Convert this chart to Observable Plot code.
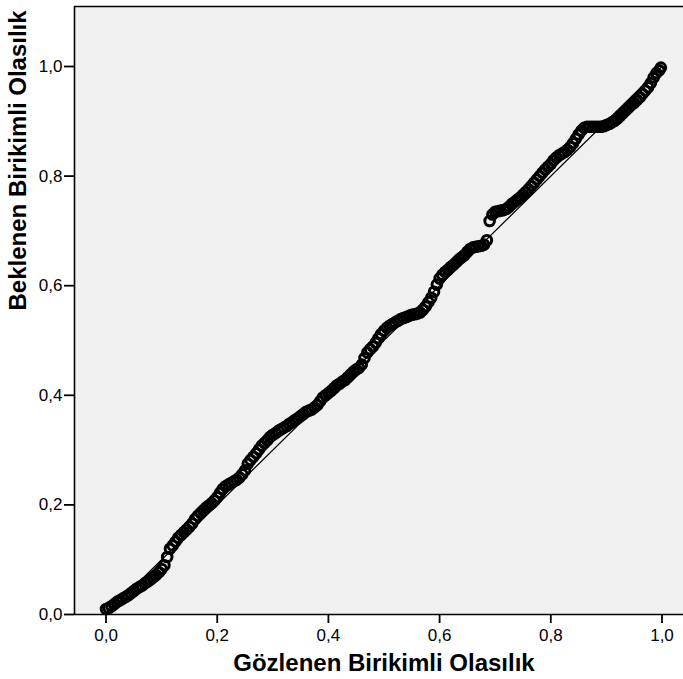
<!DOCTYPE html>
<html>
<head>
<meta charset="utf-8">
<script src="https://cdn.jsdelivr.net/npm/d3@7"></script>
<script src="https://cdn.jsdelivr.net/npm/@observablehq/plot@0.6"></script>
<style>
  html, body { margin: 0; padding: 0; background: #ffffff; }
  #chart svg { display: block; }
</style>
</head>
<body>
<div id="chart"></div>
<script>
// Observed cumulative probability (x) and expected cumulative probability (y)
const observed = [
  0.000, 0.005, 0.010, 0.015, 0.020, 0.025, 0.030, 0.035, 0.040, 0.045,
  0.050, 0.055, 0.060, 0.065, 0.070, 0.075, 0.080, 0.085, 0.090, 0.095,
  0.100, 0.105, 0.110, 0.115, 0.120, 0.125, 0.130, 0.135, 0.140, 0.145,
  0.150, 0.155, 0.160, 0.165, 0.170, 0.175, 0.180, 0.185, 0.190, 0.195,
  0.200, 0.205, 0.210, 0.215, 0.220, 0.225, 0.230, 0.235, 0.240, 0.245,
  0.250, 0.255, 0.260, 0.265, 0.270, 0.275, 0.280, 0.285, 0.290, 0.295,
  0.300, 0.305, 0.310, 0.315, 0.320, 0.325, 0.330, 0.335, 0.340, 0.345,
  0.350, 0.355, 0.360, 0.365, 0.370, 0.375, 0.380, 0.385, 0.390, 0.395,
  0.400, 0.405, 0.410, 0.415, 0.420, 0.425, 0.430, 0.435, 0.440, 0.445,
  0.450, 0.455, 0.460, 0.465, 0.470, 0.475, 0.480, 0.485, 0.490, 0.495,
  0.500, 0.505, 0.510, 0.515, 0.520, 0.525, 0.530, 0.535, 0.540, 0.545,
  0.550, 0.555, 0.560, 0.565, 0.570, 0.575, 0.580, 0.585, 0.590, 0.595,
  0.600, 0.605, 0.610, 0.615, 0.620, 0.625, 0.630, 0.635, 0.640, 0.645,
  0.650, 0.655, 0.660, 0.665, 0.670, 0.675, 0.680, 0.685, 0.690, 0.695,
  0.700, 0.705, 0.710, 0.715, 0.720, 0.725, 0.730, 0.735, 0.740, 0.745,
  0.750, 0.755, 0.760, 0.765, 0.770, 0.775, 0.780, 0.785, 0.790, 0.795,
  0.800, 0.805, 0.810, 0.815, 0.820, 0.825, 0.830, 0.835, 0.840, 0.845,
  0.850, 0.855, 0.860, 0.865, 0.870, 0.875, 0.880, 0.885, 0.890, 0.895,
  0.900, 0.905, 0.910, 0.915, 0.920, 0.925, 0.930, 0.935, 0.940, 0.945,
  0.950, 0.955, 0.960, 0.965, 0.970, 0.975, 0.980, 0.985, 0.990, 0.995,
  0.998
];
const expected = [
  0.010, 0.012, 0.015, 0.019, 0.023, 0.026, 0.029, 0.032, 0.035, 0.039,
  0.043, 0.047, 0.050, 0.053, 0.057, 0.060, 0.064, 0.068, 0.072, 0.077,
  0.083, 0.090, 0.105, 0.120, 0.126, 0.133, 0.140, 0.145, 0.150, 0.155,
  0.160, 0.166, 0.174, 0.180, 0.185, 0.190, 0.195, 0.199, 0.203, 0.208,
  0.214, 0.222, 0.229, 0.234, 0.237, 0.240, 0.243, 0.246, 0.250, 0.256,
  0.263, 0.275, 0.282, 0.288, 0.294, 0.301, 0.308, 0.313, 0.318, 0.324,
  0.328, 0.331, 0.335, 0.338, 0.341, 0.344, 0.348, 0.351, 0.355, 0.358,
  0.362, 0.366, 0.370, 0.372, 0.374, 0.378, 0.382, 0.389, 0.396, 0.400,
  0.404, 0.408, 0.413, 0.418, 0.421, 0.425, 0.428, 0.433, 0.438, 0.443,
  0.447, 0.450, 0.456, 0.468, 0.478, 0.484, 0.489, 0.496, 0.504, 0.512,
  0.518, 0.523, 0.527, 0.530, 0.533, 0.536, 0.539, 0.541, 0.543, 0.545,
  0.547, 0.548, 0.549, 0.551, 0.556, 0.562, 0.570, 0.578, 0.589, 0.602,
  0.613, 0.620, 0.625, 0.629, 0.634, 0.638, 0.643, 0.648, 0.652, 0.656,
  0.662, 0.667, 0.670, 0.671, 0.672, 0.673, 0.675, 0.683, 0.718, 0.730,
  0.735, 0.736, 0.737, 0.738, 0.740, 0.744, 0.749, 0.753, 0.757, 0.761,
  0.766, 0.771, 0.776, 0.782, 0.788, 0.794, 0.800, 0.806, 0.812, 0.817,
  0.822, 0.829, 0.834, 0.838, 0.841, 0.844, 0.848, 0.853, 0.860, 0.868,
  0.876, 0.883, 0.888, 0.890, 0.890, 0.890, 0.890, 0.890, 0.890, 0.891,
  0.893, 0.895, 0.898, 0.901, 0.905, 0.910, 0.915, 0.920, 0.925, 0.930,
  0.934, 0.939, 0.944, 0.950, 0.956, 0.962, 0.970, 0.980, 0.988, 0.993,
  0.998
];
const tickValues = [0, 0.2, 0.4, 0.6, 0.8, 1.0];
const referenceLine = [0, 1];
const xDomain = [-0.0567, 1.0387];
const yDomain = [0, 1.1095];
const xTitle = "Gözlenen Birikimli Olasılık";
const yTitle = "Beklenen Birikimli Olasılık";

const points = observed.map((x, i) => ({x, y: expected[i]}));
const fmt = d => d3.format(".1f")(d).replace(".", ",");
const font = "'Liberation Sans', Arial, Helvetica, sans-serif";

const chart = Plot.plot({
  width: 683,
  height: 679,
  marginLeft: 74,
  marginRight: 0,
  marginTop: 6,
  marginBottom: 65,
  style: {fontFamily: font, background: "#ffffff", color: "#000000"},
  x: {domain: xDomain},
  y: {domain: yDomain},
  marks: [
    Plot.frame({fill: "#f0f0f0", stroke: null}),
    Plot.line(referenceLine, {x: d => d, y: d => d, stroke: "#000000", strokeWidth: 1.2}),
    Plot.dot(points, {x: "x", y: "y", r: 4.8, stroke: "#000000", strokeWidth: 3, fill: "none"}),
    Plot.ruleY([yDomain[1]], {stroke: "#000000", strokeWidth: 1.6}),
    Plot.ruleY([yDomain[0]], {stroke: "#000000", strokeWidth: 1.6}),
    Plot.ruleX([xDomain[0]], {stroke: "#000000", strokeWidth: 1.6}),
    Plot.axisX({ticks: tickValues, tickFormat: fmt, tickSize: 9, tickPadding: 5, fontSize: 17, label: null, stroke: "#000000", strokeWidth: 1.8}),
    Plot.axisY({ticks: tickValues, tickFormat: fmt, tickSize: 10, tickPadding: 2, fontSize: 17, label: null, stroke: "#000000", strokeWidth: 1.8}),
    Plot.text([xTitle], {frameAnchor: "bottom", text: d => d, dx: 5, dy: 49, lineAnchor: "middle", fontSize: 24, fontWeight: "bold", fill: "#000000"}),
    Plot.text([yTitle], {frameAnchor: "left", text: d => d, dx: -56, rotate: -90, lineAnchor: "middle", fontSize: 24, fontWeight: "bold", fill: "#000000"})
  ]
});
document.getElementById("chart").appendChild(chart);
</script>
</body>
</html>
